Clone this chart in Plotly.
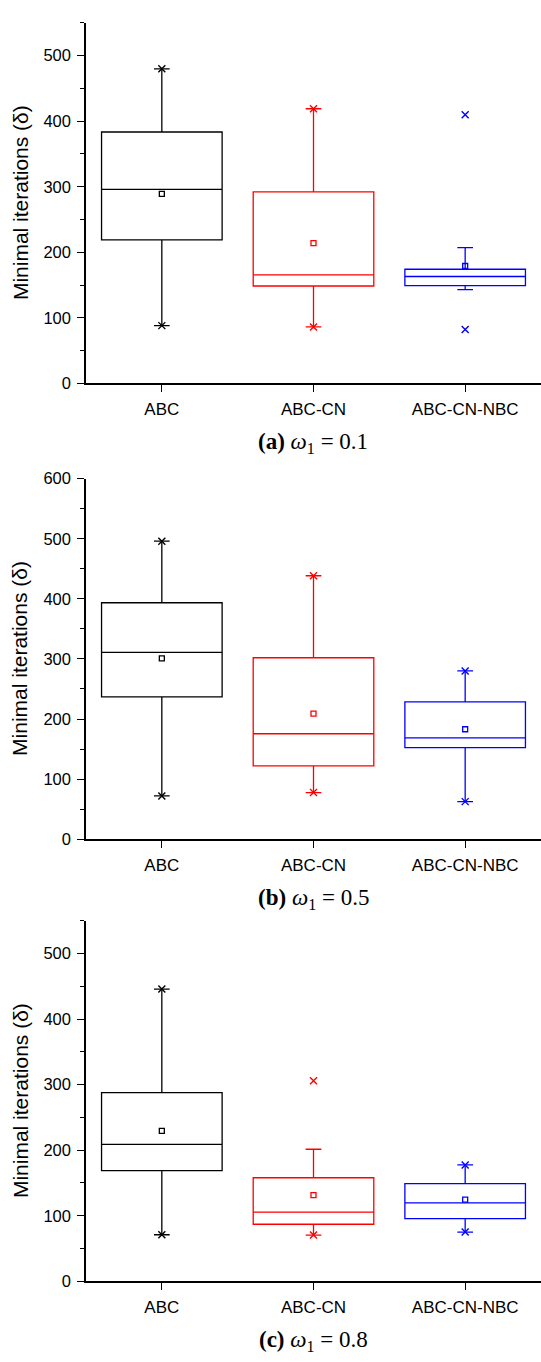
import plotly.graph_objects as go

categories = ["ABC", "ABC-CN", "ABC-CN-NBC"]
colors = ["#000000", "#FF0000", "#0000FF"]

# Panel (a) omega1 = 0.1
a_q1 = [219, 148.5, 149]
a_median = [296, 165.5, 163]
a_q3 = [383.5, 292, 174]
a_wlow = [88, 86, 143]
a_whigh = [480, 419, 207]
a_mean = [289, 214, 179]
a_min = [88, 86, 82]
a_max = [480, 419, 410]

# Panel (b) omega1 = 0.5
b_q1 = [237, 122, 152.5]
b_median = [311, 175.5, 168.5]
b_q3 = [393.5, 302, 228.5]
b_wlow = [72, 77.5, 62.5]
b_whigh = [496, 438.5, 280]
b_mean = [301, 209, 183]
b_min = [72, 77.5, 62.5]
b_max = [496, 438.5, 280]

# Panel (c) omega1 = 0.8
c_q1 = [169, 87, 95.5]
c_median = [209, 105.5, 119.5]
c_q3 = [288, 158, 149]
c_wlow = [71, 70.5, 75]
c_whigh = [446, 201.5, 177.5]
c_mean = [229.5, 131.5, 124.5]
c_min = [71, 70.5, 75]
c_max = [446, 306, 177.5]

y_ranges = [[0, 550], [0, 600], [0, 550]]
captions = ["<b>(a)</b> <i>ω</i><sub>1</sub>\u00a0=\u00a00.1",
            "<b>(b)</b> <i>ω</i><sub>1</sub>\u00a0=\u00a00.5",
            "<b>(c)</b> <i>ω</i><sub>1</sub>\u00a0=\u00a00.8"]
y_title = "Minimal iterations (δ)"

panels = [
    (a_q1, a_median, a_q3, a_wlow, a_whigh, a_mean, a_min, a_max),
    (b_q1, b_median, b_q3, b_wlow, b_whigh, b_mean, b_min, b_max),
    (c_q1, c_median, c_q3, c_wlow, c_whigh, c_mean, c_min, c_max),
]

W, H = 541, 1362
px_areas = [(14.1, 379.3), (476.0, 841.3), (924.1, 1289.3)]
x_left = 86

fig = go.Figure()
layout = dict(
    width=W, height=H,
    margin=dict(l=0, r=0, t=0, b=0),
    paper_bgcolor="white", plot_bgcolor="white",
    showlegend=False, boxmode="overlay",
    font=dict(family="Liberation Sans, Arial, sans-serif", color="black"),
)
annotations = []

for i, (q1, med, q3, wl, wh, mean, mn, mx) in enumerate(panels):
    n = "" if i == 0 else str(i + 1)
    xa, ya = "x" + n, "y" + n
    for j, cat in enumerate(categories):
        fig.add_trace(go.Box(
            x=[cat], q1=[q1[j]], median=[med[j]], q3=[q3[j]],
            lowerfence=[wl[j]], upperfence=[wh[j]],
            boxpoints=False, width=0.795, whiskerwidth=0.13,
            line=dict(color=colors[j], width=1.3),
            fillcolor="rgba(0,0,0,0)",
            xaxis=xa, yaxis=ya, hoverinfo="skip",
        ))
    fig.add_trace(go.Scatter(
        x=categories, y=mean, mode="markers",
        marker=dict(symbol="square-open", size=5, color=colors,
                    line=dict(width=1.3)),
        xaxis=xa, yaxis=ya, hoverinfo="skip",
    ))
    fig.add_trace(go.Scatter(
        x=categories + categories, y=mn + mx, mode="markers",
        marker=dict(symbol="x-thin-open", size=7, color=colors + colors,
                    line=dict(width=1.4, color=colors + colors)),
        xaxis=xa, yaxis=ya, hoverinfo="skip",
    ))
    top, bot = px_areas[i]
    dom = [1 - bot / H, 1 - top / H]
    layout["xaxis" + n] = dict(
        domain=[x_left / W, 1], anchor=ya, type="category",
        categoryorder="array", categoryarray=categories,
        range=[-0.5, 2.5], showline=True, linecolor="black", linewidth=1.5,
        ticks="outside", ticklen=7, tickwidth=1.3, tickcolor="black",
        tickfont=dict(size=17, color="black"), showgrid=False,
        zeroline=False, ticklabelstandoff=3,
    )
    layout["yaxis" + n] = dict(
        domain=dom, anchor=xa, range=y_ranges[i], dtick=100, tick0=0,
        showline=True, linecolor="black", linewidth=1.5,
        ticks="outside", ticklen=7, tickwidth=1.3, tickcolor="black",
        tickfont=dict(size=16.5, color="black"), showgrid=False,
        zeroline=False, ticklabelstandoff=3,
        minor=dict(dtick=50, tick0=0, ticks="outside", ticklen=4,
                   tickwidth=1.3, tickcolor="black", showgrid=False),
    )
    annotations.append(dict(
        text=y_title, textangle=-90, xref="paper", yref="paper",
        x=20 / W, y=1 - (top + bot) / 2 / H, xanchor="center", yanchor="middle",
        showarrow=False, font=dict(size=21, color="black",
                                   family="Liberation Sans, Arial, sans-serif"),
    ))
    annotations.append(dict(
        text=captions[i], xref="paper", yref="paper",
        x=313 / W, y=1 - (bot + 61) / H, xanchor="center", yanchor="middle",
        showarrow=False, font=dict(size=23, color="black",
                                   family="Liberation Serif, Times New Roman, serif"),
    ))

layout["annotations"] = annotations
fig.update_layout(**layout)
fig.write_html("out.html")
